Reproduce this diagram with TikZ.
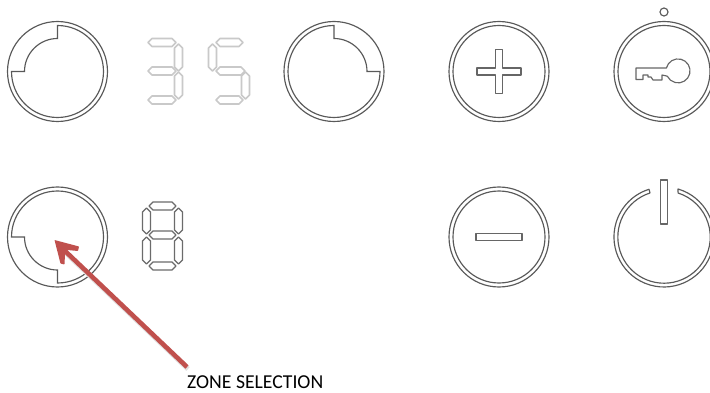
\documentclass[tikz,border=0pt]{standalone}
\usepackage{fontspec}
\setmainfont{Carlito}
\definecolor{arrowred}{HTML}{C0504D}
\tikzset{
  ringline/.style={draw=black!65,line width=1.15pt},
  symline/.style={draw=black!60,line width=1.15pt,line join=round},
  dimseg/.style={draw=black!21,line width=1.7pt,line join=round},
  darkseg/.style={draw=black!58,line width=1.3pt,line join=round},
  labeltext/.style={inner sep=0pt,anchor=base west,font=\fontsize{19.7}{22}\selectfont,text=black}
}
\newcommand{\hseg}[4][dimseg]{\draw[#1] (#2,#4) -- (#2+4,#4-4) -- (#3-4,#4-4) -- (#3,#4) -- (#3-4,#4+4) -- (#2+4,#4+4) -- cycle;}
\newcommand{\vseg}[4][dimseg]{\draw[#1] (#2,#3) -- (#2+4,#3+4) -- (#2+4,#4-4) -- (#2,#4) -- (#2-4,#4-4) -- (#2-4,#3+4) -- cycle;}
\begin{document}
\begin{tikzpicture}[x=1pt,y=-1pt]
\clip (0,0) rectangle (710,393);
\fill[white] (0,0) rectangle (710,393);
% ring with notch, upper left
\begin{scope}[shift={(57.5,71.5)}]
  \draw[ringline] (0,0) circle[radius=50];
  \draw[ringline] (0,-46) arc[start angle=-90,end angle=180,radius=46] -- (-33,0) arc[start angle=180,end angle=270,radius=33] -- cycle;
\end{scope}
% ring with notch, upper middle
\begin{scope}[shift={(334,71.5)}]
  \draw[ringline] (0,0) circle[radius=50];
  \draw[ringline] (0,-46) arc[start angle=270,end angle=0,radius=46] -- (33,0) arc[start angle=0,end angle=-90,radius=33] -- cycle;
\end{scope}
% ring with notch, lower left
\begin{scope}[shift={(57.5,237)}]
  \draw[ringline] (0,0) circle[radius=50];
  \draw[ringline] (-46,0) arc[start angle=180,end angle=450,radius=46] -- (0,33) arc[start angle=90,end angle=180,radius=33] -- cycle;
\end{scope}
% plus
\begin{scope}[shift={(499,71.5)}]
  \draw[ringline] (0,0) circle[radius=50];
  \draw[ringline] (0,0) circle[radius=46];
  \draw[symline] (-3.5,-22) -- (3.5,-22) -- (3.5,-3.5) -- (22,-3.5) -- (22,3.5) -- (3.5,3.5) -- (3.5,22) -- (-3.5,22) -- (-3.5,3.5) -- (-22,3.5) -- (-22,-3.5) -- (-3.5,-3.5) -- cycle;
\end{scope}
% minus
\begin{scope}[shift={(499,237)}]
  \draw[ringline] (0,0) circle[radius=50];
  \draw[ringline] (0,0) circle[radius=46];
  \draw[symline] (-23,-3.5) rectangle (23,3.5);
\end{scope}
% key
\begin{scope}[shift={(664,71.5)}]
  \draw[ringline] (0,0) circle[radius=50];
  \draw[ringline] (0,0) circle[radius=46];
\end{scope}
\draw[ringline] (664,12) circle[radius=4];
\draw[symline] (636,68) -- (666.4,68) arc[start angle=194,end angle=514,radius=12] -- (662,75) -- (662,80) -- (653,80) -- (651,77) -- (648,77) -- (648,75) -- (643,75) -- (643,79.5) -- (636,79.5) -- cycle;
% power
\begin{scope}[shift={(664,237)}]
  \draw[ringline,line join=round] (14,-48) arc[start angle=-73.7,end angle=252.6,radius=50] -- (-14,-44) arc[start angle=252.3,end angle=-72.3,radius=46.2] -- cycle;
  \draw[symline] (-3.5,-57) rectangle (3.5,-13);
\end{scope}
% digit 3
\hseg{148}{176}{42.5}
\hseg{148}{176}{71}
\hseg{148}{176}{100}
\vseg{178.5}{44}{71}
\vseg{178.5}{72}{99}
% digit 5
\hseg{216}{243}{42.5}
\hseg{216}{245}{71}
\hseg{216}{243}{100}
\vseg{212.5}{44}{71}
\vseg{245.5}{72}{99}
% digit 8
\hseg[darkseg]{149}{176}{206}
\hseg[darkseg]{149}{176}{235}
\hseg[darkseg]{149}{176}{266}
\vseg[darkseg]{146.5}{208}{234}
\vseg[darkseg]{178.5}{208}{234}
\vseg[darkseg]{146.5}{237}{264}
\vseg[darkseg]{178.5}{237}{264}
% label and arrow
\node[labeltext] (zone) at (187,388) {ZONE SELECTION};
\coordinate (tail) at (187,367);
\coordinate (shaftend) at (64,250);
\coordinate (tip) at (54.5,240);
\draw[draw=black!12,line width=5pt] (188,369) -- (66,253);
\draw[draw=arrowred,line width=4.6pt] (tail) -- (shaftend);
\fill[arrowred,rounded corners=0.6pt] (tip) -- (79,246.5) -- (78,251) -- (67.5,250) -- (65,254) -- (64.5,264.5) -- (60.5,263.5) -- cycle;
\end{tikzpicture}
\end{document}
